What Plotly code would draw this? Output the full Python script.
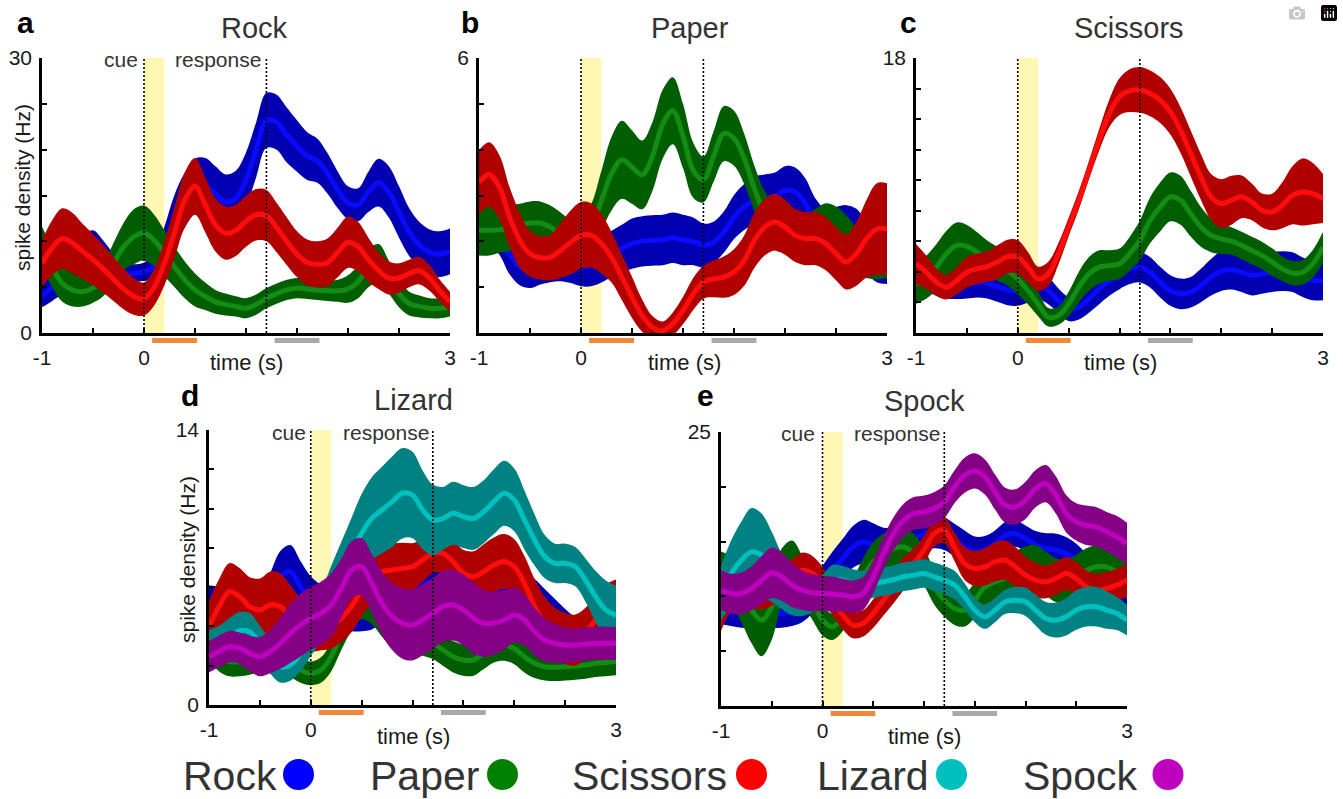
import plotly.graph_objects as go

# ---------------- data ----------------
TIME = [-1.0, -0.9, -0.8, -0.7, -0.6, -0.5, -0.4, -0.3, -0.2, -0.1,
        0.0, 0.1, 0.2, 0.3, 0.4, 0.5, 0.6, 0.7, 0.8, 0.9,
        1.0, 1.1, 1.2, 1.3, 1.4, 1.5, 1.6, 1.7, 1.8, 1.9,
        2.0, 2.1, 2.2, 2.3, 2.4, 2.5, 2.6, 2.7, 2.8, 2.9, 3.0]

# panel a (Rock neuron)
A_ROCK = [4.0, 5.0, 6.1, 7.5, 8.7, 9.2, 8.3, 7.2, 6.5, 6.5, 6.7, 7.2, 9.4, 12.3, 14.5, 16.0, 16.1, 15.2, 14.3, 14.7,
          16.7, 20.0, 23.2, 23.0, 21.6, 20.4, 19.3, 18.8, 17.4, 15.6, 14.2, 14.0, 15.4, 16.4, 15.4, 13.2, 11.0, 9.6, 8.8, 8.6, 8.9]
A_ROCK_SE = [1.2, 1.5, 1.8, 2.0, 2.0, 2.0, 1.8, 1.5, 1.2, 1.0, 1.0, 1.5, 2.2, 2.8, 3.0, 3.0, 3.0, 3.0, 3.0, 3.0,
             3.0, 3.0, 3.0, 3.0, 3.0, 2.8, 2.6, 2.4, 2.2, 2.0, 1.8, 1.8, 2.2, 2.6, 2.8, 2.8, 2.6, 2.5, 2.5, 2.5, 2.5]
A_PAPER = [9.4, 7.2, 5.4, 4.7, 4.5, 4.9, 5.8, 7.6, 9.4, 10.5, 10.9, 10.1, 8.7, 7.2, 5.8, 4.7, 4.0, 3.4, 3.1, 2.9,
           2.7, 3.1, 3.8, 4.3, 4.7, 4.9, 4.8, 4.7, 4.6, 4.6, 4.8, 5.6, 7.1, 7.6, 6.1, 4.3, 3.2, 2.9, 2.7, 2.7, 2.9]
A_PAPER_SE = [2.2, 2.2, 2.0, 1.8, 1.6, 1.6, 1.8, 2.2, 2.6, 3.0, 3.0, 2.8, 2.5, 2.2, 2.0, 1.8, 1.5, 1.3, 1.2, 1.1,
              1.1, 1.1, 1.1, 1.1, 1.1, 1.1, 1.1, 1.1, 1.1, 1.2, 1.5, 1.8, 2.1, 2.1, 1.8, 1.5, 1.3, 1.2, 1.1, 1.1, 1.1]
A_SCISSORS = [7.6, 9.3, 10.3, 9.8, 8.9, 8.0, 7.0, 5.9, 4.8, 4.0, 3.7, 5.0, 7.6, 11.0, 14.5, 16.0, 14.0, 11.8, 10.9, 11.2,
              12.2, 12.9, 12.8, 11.5, 10.0, 8.6, 7.7, 7.5, 7.7, 8.8, 9.9, 9.4, 8.0, 6.8, 6.0, 6.0, 6.5, 6.8, 6.0, 4.6, 3.4]
A_SCISSORS_SE = [2.5, 3.0, 3.3, 3.3, 3.0, 2.8, 2.6, 2.4, 2.2, 2.0, 1.8, 2.0, 2.4, 2.8, 3.0, 3.1, 3.0, 2.9, 2.9, 2.8,
                 2.8, 2.8, 2.8, 2.7, 2.6, 2.5, 2.5, 2.5, 2.6, 2.7, 2.8, 2.7, 2.4, 2.0, 1.8, 1.6, 1.5, 1.5, 1.4, 1.2, 1.1]

# panel b (Paper neuron)
B_ROCK = [2.49, 2.38, 2.16, 1.73, 1.44, 1.36, 1.44, 1.51, 1.55, 1.51, 1.44, 1.47, 1.58, 1.73, 1.84, 1.95, 2.00, 2.02, 2.03, 2.08,
          2.03, 2.00, 1.91, 1.98, 2.20, 2.53, 2.75, 2.89, 2.93, 2.97, 3.11, 3.08, 2.82, 2.38, 2.16, 2.20, 2.24, 2.16, 1.87, 1.69, 1.65]
B_ROCK_SE = [0.45, 0.45, 0.45, 0.45, 0.40, 0.38, 0.38, 0.40, 0.42, 0.42, 0.42, 0.45, 0.48, 0.50, 0.52, 0.55, 0.55, 0.55, 0.55, 0.55,
             0.55, 0.52, 0.48, 0.45, 0.45, 0.48, 0.50, 0.52, 0.53, 0.53, 0.53, 0.53, 0.55, 0.55, 0.55, 0.55, 0.55, 0.55, 0.56, 0.58, 0.58]
B_PAPER = [2.24, 2.24, 2.25, 2.29, 2.35, 2.40, 2.40, 2.31, 2.16, 2.03, 2.06, 2.31, 2.89, 3.48, 3.78, 3.62, 3.45, 3.85, 4.55, 4.85,
           4.30, 3.55, 3.35, 3.85, 4.35, 4.25, 3.80, 3.15, 2.60, 2.31, 2.24, 2.16, 2.09, 2.16, 2.27, 2.20, 2.02, 1.80, 1.65, 1.62, 1.65]
B_PAPER_SE = [0.55, 0.55, 0.50, 0.50, 0.47, 0.47, 0.47, 0.47, 0.47, 0.45, 0.45, 0.50, 0.65, 0.80, 0.85, 0.80, 0.75, 0.75, 0.75, 0.73,
              0.70, 0.60, 0.50, 0.55, 0.60, 0.60, 0.55, 0.50, 0.50, 0.50, 0.50, 0.50, 0.50, 0.55, 0.56, 0.56, 0.55, 0.50, 0.45, 0.45, 0.45]
B_SCISSORS = [3.29, 3.46, 3.18, 2.53, 2.02, 1.73, 1.64, 1.65, 1.80, 1.98, 2.13, 2.13, 1.95, 1.65, 1.22, 0.78, 0.38, 0.12, 0.05, 0.20,
              0.49, 0.85, 1.11, 1.18, 1.22, 1.33, 1.58, 2.02, 2.31, 2.42, 2.31, 2.13, 2.06, 2.06, 1.95, 1.73, 1.55, 1.73, 2.06, 2.27, 2.27]
B_SCISSORS_SE = [0.70, 0.70, 0.70, 0.65, 0.60, 0.50, 0.47, 0.50, 0.60, 0.70, 0.73, 0.70, 0.65, 0.55, 0.50, 0.45, 0.35, 0.25, 0.20, 0.25,
                 0.30, 0.35, 0.36, 0.40, 0.45, 0.50, 0.55, 0.60, 0.62, 0.62, 0.60, 0.58, 0.58, 0.58, 0.58, 0.58, 0.60, 0.70, 0.85, 1.00, 1.00]

# panel c (Scissors neuron)
C_ROCK = [4.14, 3.76, 3.44, 3.26, 3.22, 3.26, 3.33, 3.26, 3.04, 2.82, 2.78, 3.00, 3.22, 2.78, 2.12, 1.58, 1.68, 2.23, 2.89, 3.44,
          3.87, 4.20, 4.31, 3.98, 3.33, 2.78, 2.56, 2.67, 3.11, 3.65, 4.05, 4.14, 3.98, 3.76, 3.87, 3.98, 4.05, 3.98, 3.65, 3.44, 3.44]
C_ROCK_SE = [1.0, 1.0, 1.0, 1.0, 1.0, 1.0, 1.0, 1.0, 1.0, 1.0, 1.0, 1.0, 1.0, 0.9, 0.8, 0.8, 0.8, 0.9, 1.0, 1.0,
             1.0, 1.0, 1.0, 1.0, 1.0, 1.0, 1.0, 1.0, 1.1, 1.2, 1.3, 1.3, 1.3, 1.3, 1.3, 1.3, 1.3, 1.3, 1.3, 1.3, 1.3]
C_PAPER = [3.22, 3.65, 4.31, 5.19, 5.73, 5.67, 5.30, 4.86, 4.53, 4.09, 3.54, 2.78, 1.90, 1.03, 1.14, 1.90, 3.00, 3.87, 4.31, 4.42,
           4.53, 5.19, 6.06, 7.37, 8.25, 8.91, 8.69, 7.81, 6.94, 6.39, 6.17, 6.02, 5.73, 5.40, 5.08, 4.64, 4.20, 3.92, 3.98, 4.53, 5.62]
C_PAPER_SE = [1.3, 1.4, 1.5, 1.5, 1.5, 1.4, 1.3, 1.2, 1.1, 1.0, 1.0, 0.9, 0.8, 0.6, 0.6, 0.8, 1.0, 1.1, 1.1, 1.0,
              1.0, 1.1, 1.3, 1.5, 1.6, 1.6, 1.6, 1.5, 1.3, 1.1, 1.0, 0.9, 0.9, 0.9, 0.9, 0.9, 0.8, 0.8, 0.8, 0.9, 1.0]
C_SCISSORS = [4.53, 3.98, 3.33, 3.00, 3.44, 3.98, 4.20, 4.35, 4.64, 5.01, 4.97, 4.31, 3.54, 3.87, 5.19, 6.94, 8.69, 10.66, 12.63, 14.38,
              15.47, 15.86, 15.91, 15.69, 15.25, 14.49, 13.28, 11.75, 10.22, 8.91, 8.47, 8.69, 8.91, 8.58, 8.03, 7.92, 8.36, 9.02, 9.23, 9.12, 8.80]
C_SCISSORS_SE = [1.3, 1.1, 0.9, 0.8, 0.9, 1.0, 1.0, 1.0, 1.1, 1.1, 1.1, 1.0, 0.8, 0.8, 0.7, 0.6, 0.6, 0.6, 0.7, 0.9,
                 1.2, 1.4, 1.5, 1.5, 1.5, 1.5, 1.5, 1.5, 1.5, 1.5, 1.6, 1.6, 1.4, 1.2, 1.1, 1.2, 1.5, 1.9, 2.2, 2.0, 1.6]

# panel d (Lizard neuron)
D_ROCK = [5.09, 5.01, 4.67, 4.50, 4.67, 4.84, 5.52, 6.53, 6.79, 6.02, 5.35, 5.01, 4.84, 4.84, 4.75, 4.75, 4.84, 5.18, 5.52, 5.77,
          5.94, 6.19, 6.28, 6.19, 5.94, 5.69, 5.52, 5.55, 5.69, 5.85, 5.94, 5.85, 5.52, 5.01, 4.50, 3.99, 3.56, 3.22, 3.05, 2.97, 2.97]
D_ROCK_SE = [1.0, 1.0, 1.0, 1.0, 1.0, 1.1, 1.2, 1.3, 1.35, 1.3, 1.2, 1.1, 1.0, 1.0, 1.0, 1.0, 1.0, 0.9, 0.9, 0.85,
             0.85, 0.85, 0.85, 0.9, 0.9, 0.9, 0.9, 0.9, 0.9, 0.9, 0.9, 0.9, 0.9, 0.9, 0.9, 0.9, 0.9, 0.9, 0.9, 0.9, 0.9]
D_PAPER = [3.05, 2.46, 2.21, 2.21, 2.29, 2.46, 2.55, 2.38, 2.12, 1.78, 1.61, 1.78, 2.46, 3.65, 4.67, 5.26, 5.01, 4.33, 3.73, 3.56,
           3.48, 3.31, 3.14, 2.80, 2.46, 2.29, 2.29, 2.63, 2.97, 3.05, 2.88, 2.46, 2.12, 1.95, 1.92, 1.95, 1.99, 2.04, 2.12, 2.16, 2.21]
D_PAPER_SE = [0.8, 0.75, 0.75, 0.75, 0.75, 0.75, 0.75, 0.75, 0.7, 0.65, 0.6, 0.65, 0.75, 0.85, 0.9, 0.9, 0.9, 0.85, 0.8, 0.8,
              0.8, 0.8, 0.8, 0.8, 0.8, 0.8, 0.8, 0.8, 0.8, 0.8, 0.8, 0.8, 0.75, 0.7, 0.7, 0.7, 0.7, 0.7, 0.7, 0.7, 0.7]
D_SCISSORS = [3.99, 5.01, 5.77, 5.52, 5.01, 4.84, 5.09, 5.01, 4.50, 4.07, 3.99, 3.99, 4.07, 4.41, 5.01, 5.85, 6.53, 6.79, 6.87, 6.96,
              7.04, 7.38, 7.72, 7.72, 7.30, 6.70, 6.53, 6.79, 7.13, 7.30, 7.04, 6.19, 5.01, 4.16, 3.65, 3.39, 3.31, 3.65, 4.33, 4.84, 5.09]
D_SCISSORS_SE = [1.3, 1.4, 1.45, 1.45, 1.5, 1.6, 1.7, 1.7, 1.6, 1.4, 1.3, 1.2, 1.2, 1.2, 1.3, 1.35, 1.35, 1.35, 1.35, 1.3,
                 1.2, 1.1, 1.0, 1.0, 1.1, 1.2, 1.3, 1.4, 1.4, 1.4, 1.4, 1.4, 1.4, 1.35, 1.3, 1.3, 1.3, 1.3, 1.3, 1.3, 1.3]
D_LIZARD = [2.97, 3.14, 3.48, 3.78, 3.73, 3.14, 2.46, 1.95, 2.04, 2.63, 3.48, 4.50, 5.68, 6.70, 7.72, 8.74, 9.50, 9.93, 10.35, 10.78,
            10.69, 9.93, 9.42, 9.50, 9.76, 9.59, 9.50, 9.84, 10.35, 10.78, 10.44, 9.42, 8.40, 7.55, 7.21, 7.21, 7.04, 6.36, 5.52, 4.84, 4.58]
D_LIZARD_SE = [0.85, 0.9, 0.95, 0.95, 0.95, 0.9, 0.85, 0.8, 0.8, 0.9, 1.0, 1.2, 1.4, 1.6, 1.8, 2.0, 2.1, 2.2, 2.3, 2.3,
               2.2, 2.0, 1.8, 1.6, 1.6, 1.6, 1.6, 1.6, 1.65, 1.65, 1.6, 1.5, 1.3, 1.1, 1.0, 1.0, 1.0, 1.1, 1.3, 1.5, 1.5]
D_SPOCK = [2.46, 2.72, 2.97, 2.89, 2.63, 2.46, 2.72, 3.14, 3.65, 4.07, 4.41, 4.67, 5.09, 5.94, 6.87, 7.04, 6.19, 5.18, 4.50, 4.16,
           4.07, 4.33, 4.67, 5.01, 5.09, 4.84, 4.41, 4.16, 4.16, 4.33, 4.58, 4.33, 3.73, 3.31, 3.14, 3.05, 3.05, 3.10, 3.14, 3.14, 3.14]
D_SPOCK_SE = [0.8, 0.8, 0.8, 0.8, 0.9, 1.0, 1.1, 1.3, 1.5, 1.6, 1.6, 1.6, 1.6, 1.5, 1.45, 1.45, 1.5, 1.6, 1.7, 1.8,
              1.8, 1.8, 1.8, 1.8, 1.8, 1.8, 1.8, 1.7, 1.6, 1.5, 1.4, 1.3, 1.2, 1.1, 1.0, 0.9, 0.85, 0.85, 0.85, 0.85, 0.85]

# panel e (Spock neuron)
E_ROCK = [8.75, 8.60, 8.44, 8.44, 8.44, 8.44, 8.44, 8.60, 9.05, 9.96, 11.18, 12.39, 13.46, 14.52, 14.98, 14.67, 14.37, 14.52, 14.82, 15.28,
          15.67, 15.89, 15.73, 15.13, 14.52, 14.06, 14.22, 14.82, 15.58, 15.73, 15.28, 14.67, 14.37, 14.22, 13.91, 13.30, 12.39, 11.33, 10.27, 9.36, 8.75]
E_ROCK_SE = [1.3, 1.3, 1.3, 1.3, 1.3, 1.3, 1.3, 1.3, 1.4, 1.5, 1.6, 1.7, 1.8, 1.9, 2.0, 2.0, 1.9, 1.8, 1.7, 1.6,
             1.6, 1.5, 1.5, 1.5, 1.5, 1.4, 1.3, 1.2, 1.2, 1.2, 1.2, 1.3, 1.4, 1.5, 1.5, 1.5, 1.5, 1.5, 1.5, 1.5, 1.5]
E_PAPER = [12.09, 11.48, 10.27, 8.75, 7.84, 9.05, 11.79, 12.70, 11.48, 9.66, 7.84, 7.23, 8.14, 9.96, 11.79, 13.15, 13.91, 14.37, 14.52, 13.91,
           12.70, 10.87, 9.66, 8.90, 8.75, 9.66, 10.87, 11.33, 11.63, 12.09, 12.55, 12.70, 12.09, 11.48, 11.33, 11.79, 12.39, 12.70, 12.70, 12.24, 11.79]
E_PAPER_SE = [2.0, 2.2, 2.6, 3.0, 3.3, 3.0, 2.6, 2.4, 2.2, 1.8, 1.4, 1.2, 1.3, 1.5, 1.7, 1.8, 1.8, 1.8, 1.8, 1.8,
              1.7, 1.6, 1.5, 1.5, 1.5, 1.6, 1.7, 1.8, 1.9, 2.0, 2.0, 2.0, 2.0, 2.0, 2.0, 2.0, 2.0, 2.0, 2.0, 2.0, 2.0]
E_SCISSORS = [8.44, 10.27, 10.87, 10.57, 10.42, 10.72, 11.18, 11.79, 12.39, 12.09, 11.18, 9.66, 8.29, 7.38, 7.53, 8.44, 9.66, 10.87, 12.09, 13.00,
              14.22, 15.73, 16.04, 14.52, 13.00, 12.55, 12.70, 13.15, 13.30, 12.70, 11.94, 11.48, 11.33, 11.63, 12.09, 11.63, 10.87, 10.57, 10.72, 11.03, 11.48]
E_SCISSORS_SE = [1.6, 1.6, 1.6, 1.6, 1.6, 1.6, 1.6, 1.6, 1.6, 1.6, 1.5, 1.4, 1.3, 1.2, 1.2, 1.3, 1.4, 1.5, 1.5, 1.4,
                 1.3, 1.2, 1.2, 1.3, 1.5, 1.6, 1.7, 1.8, 1.8, 1.8, 1.7, 1.6, 1.5, 1.5, 1.5, 1.5, 1.5, 1.5, 1.5, 1.5, 1.5]
E_LIZARD = [10.27, 12.09, 13.30, 14.06, 13.76, 12.70, 11.33, 10.27, 9.81, 9.96, 10.57, 11.48, 11.48, 11.18, 11.03, 11.18, 11.33, 11.54, 11.79, 11.94,
            12.09, 11.79, 11.48, 11.03, 10.00, 8.75, 8.14, 8.75, 9.51, 9.66, 9.51, 8.75, 7.99, 7.84, 8.14, 8.75, 9.05, 9.05, 8.75, 8.44, 7.84]
E_LIZARD_SE = [2.5, 3.0, 3.5, 4.0, 3.8, 3.2, 2.5, 2.0, 1.6, 1.4, 1.4, 1.4, 1.3, 1.3, 1.3, 1.3, 1.3, 1.3, 1.3, 1.3,
               1.3, 1.3, 1.3, 1.3, 1.2, 1.1, 1.1, 1.1, 1.1, 1.2, 1.3, 1.4, 1.5, 1.6, 1.7, 1.8, 1.8, 1.8, 1.7, 1.5, 1.4]
E_SPOCK = [10.57, 10.27, 10.27, 10.72, 11.48, 12.15, 11.79, 11.03, 10.57, 10.33, 10.27, 10.21, 10.12, 9.96, 10.27, 11.79, 13.91, 15.73, 16.95, 17.56,
           17.71, 18.01, 18.62, 19.99, 21.05, 21.45, 20.90, 19.53, 18.32, 18.17, 18.77, 19.84, 20.29, 19.23, 17.56, 16.80, 16.49, 16.34, 15.89, 15.43, 14.82]
E_SPOCK_SE = [1.8, 1.8, 1.9, 2.0, 2.2, 2.3, 2.2, 2.0, 1.8, 1.7, 1.6, 1.6, 1.5, 1.5, 1.5, 1.5, 1.5, 1.5, 1.5, 1.5,
              1.5, 1.5, 1.5, 1.5, 1.6, 1.6, 1.6, 1.6, 1.6, 1.6, 1.7, 1.7, 1.7, 1.7, 1.7, 1.7, 1.8, 1.8, 1.8, 1.9, 1.9]

PANEL_LETTERS = ["a", "b", "c", "d", "e"]
PANEL_TITLES = ["Rock", "Paper", "Scissors", "Lizard", "Spock"]
PANEL_YMAX = [30, 6, 18, 14, 25]
PANEL_YMINOR = [5, 1, 2, 2, 5]
PANEL_ZERO_LABEL = [True, False, False, True, False]
PANEL_SERIES = [
    [("Rock", A_ROCK, A_ROCK_SE), ("Paper", A_PAPER, A_PAPER_SE), ("Scissors", A_SCISSORS, A_SCISSORS_SE)],
    [("Rock", B_ROCK, B_ROCK_SE), ("Paper", B_PAPER, B_PAPER_SE), ("Scissors", B_SCISSORS, B_SCISSORS_SE)],
    [("Rock", C_ROCK, C_ROCK_SE), ("Paper", C_PAPER, C_PAPER_SE), ("Scissors", C_SCISSORS, C_SCISSORS_SE)],
    [("Rock", D_ROCK, D_ROCK_SE), ("Paper", D_PAPER, D_PAPER_SE), ("Scissors", D_SCISSORS, D_SCISSORS_SE),
     ("Lizard", D_LIZARD, D_LIZARD_SE), ("Spock", D_SPOCK, D_SPOCK_SE)],
    [("Rock", E_ROCK, E_ROCK_SE), ("Paper", E_PAPER, E_PAPER_SE), ("Scissors", E_SCISSORS, E_SCISSORS_SE),
     ("Lizard", E_LIZARD, E_LIZARD_SE), ("Spock", E_SPOCK, E_SPOCK_SE)],
]
LEGEND_NAMES = ["Rock", "Paper", "Scissors", "Lizard", "Spock"]

CUE_WINDOW = [0.0, 0.2]
RESPONSE_TIME = 1.2
ORANGE_WINDOW = [0.08, 0.52]
GRAY_WINDOW = [1.28, 1.72]
X_TICKS = [-1, 0, 3]

# ---------------- style ----------------
LINE_COLORS = {"Rock": "#0a0aff", "Paper": "#138c13", "Scissors": "#ff0d0d",
               "Lizard": "#00c0c0", "Spock": "#c000c0"}
BAND_COLORS = {"Rock": "#0000b2", "Paper": "#005e00", "Scissors": "#b00000",
               "Lizard": "#008282", "Spock": "#840084"}
LEGEND_COLORS = {"Rock": "#0000ff", "Paper": "#008000", "Scissors": "#ff0000",
                 "Lizard": "#00bfbf", "Spock": "#bf00bf"}

W, H = 1343, 799
FONT = "Liberation Sans, Arial, Helvetica, sans-serif"
TXT = "#2e2e2e"

# panel boxes in pixels: left, right, top, bottom
BOXES = [(42, 450, 58, 333), (479, 887, 58, 333), (916, 1323, 58, 333),
         (209, 616, 430, 705), (721, 1127, 432, 706)]


def fx(p):
    return p / W


def fy(p):
    return 1 - p / H


fig = go.Figure()
layout = dict(template="none", width=W, height=H, margin=dict(l=0, r=0, t=0, b=0, pad=0, autoexpand=False),
              paper_bgcolor="white", plot_bgcolor="white", showlegend=False,
              font=dict(family=FONT, color=TXT))
shapes = []
annotations = []

for i in range(5):
    n = i + 1
    xa = "x" if n == 1 else f"x{n}"
    ya = "y" if n == 1 else f"y{n}"
    left, right, top, bottom = BOXES[i]
    ymax = PANEL_YMAX[i]
    layout[f"xaxis{'' if n == 1 else n}"] = dict(
        domain=[fx(left), fx(right)], range=[-1, 3], anchor=ya, automargin=False,
        showline=True, linecolor="black", linewidth=2.5,
        ticks="inside", ticklen=5, tickwidth=2, tickcolor="black",
        tickvals=X_TICKS, ticktext=[str(v) for v in X_TICKS],
        tickfont=dict(size=21, color="#1a1a1a", family=FONT), ticklabelstandoff=4,
        minor=dict(ticks="inside", dtick=0.5, tick0=-1, ticklen=5, tickwidth=2, tickcolor="black"),
        showgrid=False, zeroline=False, fixedrange=True)
    layout[f"yaxis{'' if n == 1 else n}"] = dict(
        domain=[fy(bottom), fy(top)], range=[0, ymax], anchor=xa, automargin=False,
        showline=True, linecolor="black", linewidth=2.5,
        ticks="inside", ticklen=5, tickwidth=2, tickcolor="black",
        tickvals=[0, ymax], ticktext=["0" if PANEL_ZERO_LABEL[i] else "", str(ymax)],
        tickfont=dict(size=21, color="#1a1a1a", family=FONT), ticklabelstandoff=3,
        minor=dict(ticks="inside", dtick=PANEL_YMINOR[i], tick0=0, ticklen=5, tickwidth=2, tickcolor="black"),
        showgrid=False, zeroline=False, fixedrange=True)

    # cue window (yellow)
    shapes.append(dict(type="rect", xref=xa, yref=f"{ya} domain", x0=CUE_WINDOW[0], x1=CUE_WINDOW[1],
                       y0=0, y1=1, fillcolor="#fff7b3", line=dict(width=0), layer="below"))

    for name, mean, se in PANEL_SERIES[i]:
        lo = [m - s for m, s in zip(mean, se)]
        hi = [m + s for m, s in zip(mean, se)]
        fig.add_trace(go.Scatter(x=TIME, y=lo, mode="lines", xaxis=xa, yaxis=ya,
                                 line=dict(width=0, shape="spline", smoothing=1.0),
                                 hoverinfo="skip"))
        fig.add_trace(go.Scatter(x=TIME, y=hi, mode="lines", xaxis=xa, yaxis=ya,
                                 line=dict(width=0, shape="spline", smoothing=1.0),
                                 fill="tonexty", fillcolor=BAND_COLORS[name], hoverinfo="skip"))
        fig.add_trace(go.Scatter(x=TIME, y=mean, mode="lines", xaxis=xa, yaxis=ya,
                                 line=dict(width=5, color=LINE_COLORS[name], shape="spline", smoothing=1.0),
                                 name=name))

    # cue and response lines
    for tv in (CUE_WINDOW[0], RESPONSE_TIME):
        shapes.append(dict(type="line", xref=xa, yref=f"{ya} domain", x0=tv, x1=tv, y0=0, y1=1,
                           line=dict(color="black", width=1.6, dash="2px,2px"), layer="above"))

    # analysis windows under the axis
    bar_y = fy(bottom + 7.5)
    shapes.append(dict(type="line", xref=xa, yref="paper", x0=ORANGE_WINDOW[0], x1=ORANGE_WINDOW[1],
                       y0=bar_y, y1=bar_y, line=dict(color="#f0883a", width=5)))
    shapes.append(dict(type="line", xref=xa, yref="paper", x0=GRAY_WINDOW[0], x1=GRAY_WINDOW[1],
                       y0=bar_y, y1=bar_y, line=dict(color="#a9a9ad", width=5)))


def text(x, y, s, size, color=TXT, bold=False, xanchor="center", angle=0):
    annotations.append(dict(x=fx(x), y=fy(y), xref="paper", yref="paper", text=f"<b>{s}</b>" if bold else s,
                            showarrow=False, xanchor=xanchor, yanchor="middle", textangle=angle,
                            font=dict(size=size, color=color, family=FONT)))


# panel letters
for (lx, ly), s in zip([(25, 22), (470, 22), (908, 22), (190, 396), (705, 396)], PANEL_LETTERS):
    text(lx, ly, s, 30, color="black", bold=True)
# panel titles
for (tx, ty), s in zip([(254, 28), (690, 28), (1129, 28), (413, 400), (924, 401)], PANEL_TITLES):
    text(tx, ty, s, 29, color="#333333")
# x-axis titles
for tx, ty in [(246, 362), (684, 362), (1120, 362), (413, 736), (924, 736)]:
    text(tx, ty, "time (s)", 22, color="#1a1a1a")
# y-axis titles
text(22, 188, "spike density (Hz)", 21, color="#1a1a1a", angle=-90)
text(187, 560, "spike density (Hz)", 21, color="#1a1a1a", angle=-90)
# cue / response labels
for cx, rx, yy in [(140, 263, 59), (308, 431, 432), (817, 942, 433)]:
    text(cx, yy, "cue", 21, color="#333333", xanchor="right")
    text(rx, yy, "response", 21, color="#333333", xanchor="right")

# legend
LEG_TEXT_RIGHT = [279, 481, 729, 931, 1139]
LEG_DOT_CX = [298.5, 502.5, 751.5, 951.5, 1168]
for name, tr, cx in zip(LEGEND_NAMES, LEG_TEXT_RIGHT, LEG_DOT_CX):
    text(tr, 776, name, 41, color="#333333", xanchor="right")
    shapes.append(dict(type="circle", xref="paper", yref="paper",
                       x0=fx(cx - 15.5), x1=fx(cx + 15.5), y0=fy(790), y1=fy(759),
                       fillcolor=LEGEND_COLORS[name], line=dict(width=0)))

layout["shapes"] = shapes
layout["annotations"] = annotations
fig.update_layout(**layout)

fig.write_html("out.html",
               post_script="document.body.style.margin='0';document.body.style.overflow='hidden';")
